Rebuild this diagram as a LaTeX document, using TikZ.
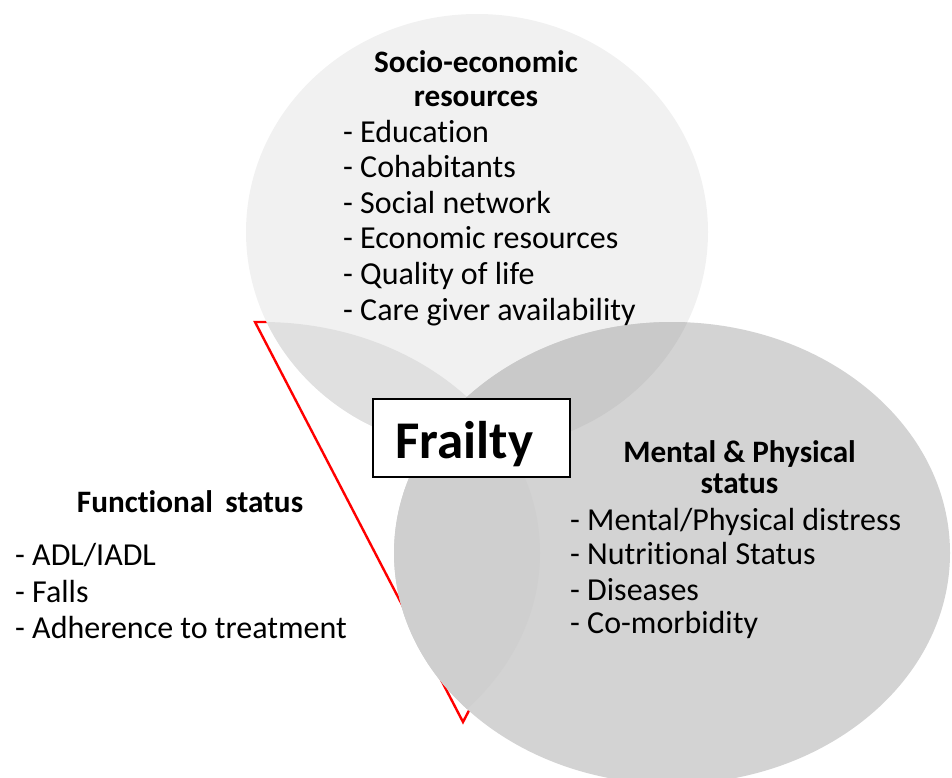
\documentclass[tikz,border=0pt]{standalone}
\usepackage{fontspec}
\setmainfont{Carlito}[Ligatures=NoCommon]
\begin{document}
\begin{tikzpicture}[x=1pt,y=-1pt,
  txt/.style={inner sep=0pt,font=\fontsize{32}{36}\selectfont},
  item/.style={txt,anchor=base west},
  head/.style={txt,anchor=base,font=\fontsize{31.2}{35}\selectfont\bfseries},
]
\definecolor{topfill}{HTML}{F1F1F1}
\definecolor{rightfill}{HTML}{D3D3D3}
\definecolor{topleftfill}{HTML}{E0E0E0}
\definecolor{toprightfill}{HTML}{C9C9C9}
\definecolor{leftrightfill}{HTML}{CFCFCF}
\definecolor{triplefill}{HTML}{C4C4C4}
\definecolor{framered}{HTML}{FF0000}

% page area
\useasboundingbox (0,0) rectangle (952,778);

% circle centres
\coordinate (ctop) at (477,232);
\coordinate (cleft) at (262,553);
\coordinate (cright) at (672,553);

% red frame behind the circles
\coordinate (t1) at (255,322);
\coordinate (t2) at (671,322);
\coordinate (t3) at (463,722);
\draw[framered, line width=2.4pt, line join=miter] (t1) -- (t2) -- (t3) -- cycle;

% the two visible circles
\fill[topfill] (ctop) ellipse [x radius=231pt, y radius=218pt];
\fill[rightfill] (cright) ellipse [x radius=278pt, y radius=231pt];

% overlaps inside the right circle
\begin{scope}
  \clip (cright) ellipse [x radius=278pt, y radius=231pt];
  \fill[leftrightfill] (cleft) ellipse [x radius=278pt, y radius=231pt];
\end{scope}

% overlaps inside the top circle
\begin{scope}
  \clip (ctop) ellipse [x radius=231pt, y radius=218pt];
  \fill[topleftfill] (cleft) ellipse [x radius=278pt, y radius=231pt];
  \fill[toprightfill] (cright) ellipse [x radius=278pt, y radius=231pt];
  \clip (cleft) ellipse [x radius=278pt, y radius=231pt];
  \fill[triplefill] (cright) ellipse [x radius=278pt, y radius=231pt];
\end{scope}

% centre box
\node[draw=black, line width=1.6pt, fill=white, minimum width=197pt,
      minimum height=78pt, inner sep=0pt] (fbox) at (471.5,438) {};
\node[inner sep=0pt, anchor=base, font=\fontsize{53}{60}\selectfont\bfseries]
  (frailty) at (464.5,458) {Frailty};

% socio-economic resources
\node[head] (seh1) at (476,73) {Socio-economic};
\node[head] (seh2) at (476,107) {resources};
\node[item] (se1) at (343,143) {- Education};
\node[item] (se2) at (343,178) {- Cohabitants};
\node[item] (se3) at (343,213) {- Social network};
\node[item] (se4) at (343,248) {- Economic resources};
\node[item] (se5) at (343,284) {- Quality of life};
\node[item] (se6) at (343,320) {- Care giver availability};

% mental & physical status
\node[head] (mph1) at (739.5,462) {Mental \& Physical};
\node[head] (mph2) at (739.5,493) {status};
\node[item] (mp1) at (570,530) {- Mental/Physical distress};
\node[item] (mp2) at (570,564) {- Nutritional Status};
\node[item] (mp3) at (570,600) {- Diseases};
\node[item] (mp4) at (570,633) {- Co-morbidity};

% functional status
\node[head] (fsh) at (190,512) {Functional\hspace{0.4em}status};
\node[item] (fs1) at (15,565) {- ADL/IADL};
\node[item] (fs2) at (15,602) {- Falls};
\node[item] (fs3) at (15,638) {- Adherence to treatment};
\end{tikzpicture}
\end{document}
